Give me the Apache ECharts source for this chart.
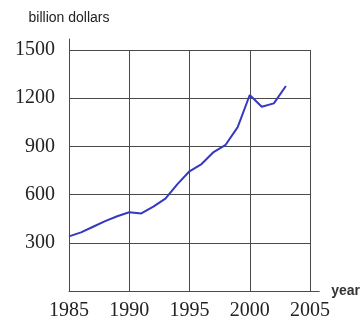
<!DOCTYPE html>
<html><head><meta charset="utf-8">
<script src="https://cdn.jsdelivr.net/npm/echarts@6/dist/echarts.min.js"></script>
<style>html,body{margin:0;padding:0;background:#fff}#c{width:363px;height:322px}</style>
</head><body><div id="c"></div>
<script>
const years = [1985,1986,1987,1988,1989,1990,1991,1992,1993,1994,1995,1996,1997,1998,1999,2000,2001,2002,2003];
const values = [340,365,400,435,465,490,483,525,575,665,745,790,865,910,1020,1220,1147,1168,1276];
const yTicks = [0,300,600,900,1200,1500];
const xTicks = [1985,1990,1995,2000,2005];
const yName = 'billion dollars';
const xName = 'year';

const chart = echarts.init(document.getElementById('c'), null, {renderer:'canvas'});
const gridColor = '#4a4a4a';
const serif = '"Liberation Serif","DejaVu Serif",serif';
chart.setOption({
  animation:false,
  backgroundColor:'#fff',
  grid:[
    {left:69,right:53,top:50,bottom:31},
    {left:69,right:41,top:39,bottom:31}
  ],
  xAxis:[
    {gridIndex:0,type:'value',min:xTicks[0],max:xTicks[xTicks.length-1],interval:5,
     axisLine:{show:false},axisTick:{show:false},
     splitLine:{show:true,lineStyle:{color:gridColor,width:1}},
     axisLabel:{fontFamily:serif,fontSize:20,color:'#222',margin:10,formatter:v=>String(v)}},
    {gridIndex:1,type:'value',min:0,max:1,
     axisLine:{show:true,lineStyle:{color:gridColor,width:1}},axisTick:{show:false},
     splitLine:{show:false},axisLabel:{show:false},
     name:xName,nameLocation:'end',nameGap:12,
     nameTextStyle:{fontFamily:'"Liberation Sans",Arial,sans-serif',fontSize:14,fontWeight:'bold',color:'#333',padding:[12,0,0,0]}}
  ],
  yAxis:[
    {gridIndex:0,type:'value',min:0,max:yTicks[yTicks.length-1],interval:300,
     axisLine:{show:false},axisTick:{show:false},
     splitLine:{show:true,lineStyle:{color:gridColor,width:1}},
     axisLabel:{fontFamily:serif,fontSize:20,color:'#222',margin:14,
       formatter:v=> v===0?'':String(v)}},
    {gridIndex:1,type:'value',min:0,max:1,
     axisLine:{show:true,lineStyle:{color:gridColor,width:1}},axisTick:{show:false},
     splitLine:{show:false},axisLabel:{show:false},
     name:yName,nameLocation:'end',nameGap:14,
     nameTextStyle:{fontFamily:'"Liberation Sans",Arial,sans-serif',fontSize:14,color:'#222',align:'center'}}
  ],
  series:[{
    type:'line',xAxisIndex:0,yAxisIndex:0,
    data:years.map((y,i)=>[y,values[i]]),
    showSymbol:false,
    lineStyle:{color:'#3538c0',width:2},
    itemStyle:{color:'#3538c0'}
  }]
});
</script></body></html>
